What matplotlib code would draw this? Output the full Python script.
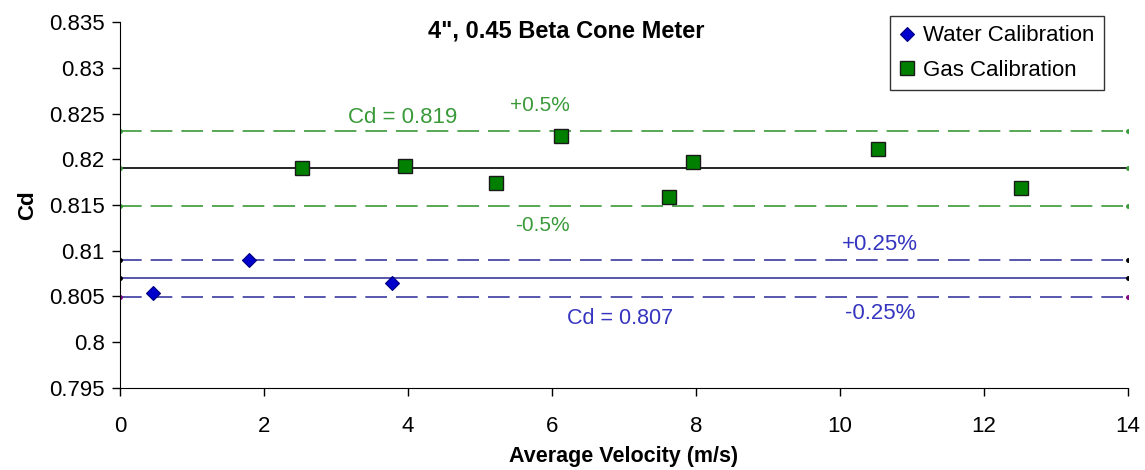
import matplotlib
matplotlib.use("Agg")
import matplotlib.pyplot as plt
import numpy as np

plt.rcParams['font.family'] = ['Liberation Sans', 'DejaVu Sans']

# water calibration points
water_v = [0.46, 1.79, 3.78]
water_cd = [0.8054, 0.8090, 0.8065]

# gas calibration points
gas_v = [2.53, 3.96, 5.22, 6.12, 7.63, 7.96, 10.53, 12.51]
gas_cd = [0.8191, 0.8193, 0.8174, 0.8226, 0.8159, 0.8197, 0.8211, 0.8169]

gas_cd_mean = 0.819
water_cd_mean = 0.807
gas_band = 0.005
water_band = 0.0025
line_x = [0, 14]

green = "#3a9a3a"
blue = "#3535c0"
navy = "#3a3aa0"

fig = plt.figure(figsize=(11.45, 4.7), dpi=100)
ax = fig.add_axes([0.1048, 0.175, 0.8802, 0.7776])

# reference lines
ax.plot(line_x, [gas_cd_mean * (1 + gas_band)] * 2, color=green, lw=1.2,
        dashes=(13, 5.4), marker="o", ms=2.5)
ax.plot(line_x, [gas_cd_mean] * 2, color="black", lw=1.2, marker="o", ms=2.5,
        mfc=green, mec=green)
ax.plot(line_x, [gas_cd_mean * (1 - gas_band)] * 2, color=green, lw=1.2,
        dashes=(13, 5.4), marker="o", ms=2.5)
ax.plot(line_x, [water_cd_mean * (1 + water_band)] * 2, color=navy, lw=1.2,
        dashes=(13, 5.4), marker="o", ms=2.5, mfc="black", mec="black")
ax.plot(line_x, [water_cd_mean] * 2, color=navy, lw=1.2, marker="o", ms=2.5,
        mfc="black", mec="black")
ax.plot(line_x, [water_cd_mean * (1 - water_band)] * 2, color=navy, lw=1.2,
        dashes=(13, 5.4), marker="o", ms=2.5, mfc="purple", mec="purple")

# data points
ax.plot(water_v, water_cd, linestyle="none", marker="D", ms=7.5,
        mfc="#0000cc", mec="#000080", mew=0.8, label="Water Calibration", zorder=5)
ax.plot(gas_v, gas_cd, linestyle="none", marker="s", ms=9.5,
        mfc="#007f00", mec="#1a1a1a", mew=1.0, label="Gas Calibration", zorder=5)

# annotations
ax.text(3.92, 0.8246, "Cd = 0.819", color=green, fontsize=16, ha="center", va="center")
ax.text(5.83, 0.8259, "+0.5%", color=green, fontsize=15, ha="center", va="center")
ax.text(5.87, 0.8128, "-0.5%", color=green, fontsize=15, ha="center", va="center")
ax.text(10.56, 0.8107, "+0.25%", color=blue, fontsize=16, ha="center", va="center")
ax.text(10.56, 0.8031, "-0.25%", color=blue, fontsize=16, ha="center", va="center")
ax.text(6.94, 0.8026, "Cd = 0.807", color=blue, fontsize=15.5, ha="center", va="center")

ax.set_xlim(0, 14)
ax.set_ylim(0.795, 0.835)
ax.set_xticks(np.arange(0, 15, 2))
ax.set_yticks(np.arange(0.795, 0.8351, 0.005))
ax.set_yticklabels(["0.795", "0.8", "0.805", "0.81", "0.815", "0.82", "0.825", "0.83", "0.835"])
ax.tick_params(labelsize=16, length=6, width=1, direction="out")
ax.tick_params(axis="x", pad=14)
ax.tick_params(axis="y", pad=5)
for s in ["top", "right"]:
    ax.spines[s].set_visible(False)

ax.text(6.2, 0.8341, "4\", 0.45 Beta Cone Meter", fontsize=17, fontweight="bold",
        ha="center", va="center")
ax.set_xlabel("Average Velocity (m/s)", fontsize=15.5, fontweight="bold", labelpad=7)
ax.set_ylabel("Cd", fontsize=16, fontweight="bold", labelpad=8)

leg = ax.legend(loc="upper right", bbox_to_anchor=(0.976, 1.016), fontsize=16,
                frameon=True, fancybox=False, edgecolor="black", handlelength=0.7,
                handletextpad=0.4, borderpad=0.4, labelspacing=0.6,
                borderaxespad=0.0)
leg.get_frame().set_linewidth(1.0)

plt.savefig("out.png", dpi=100)
